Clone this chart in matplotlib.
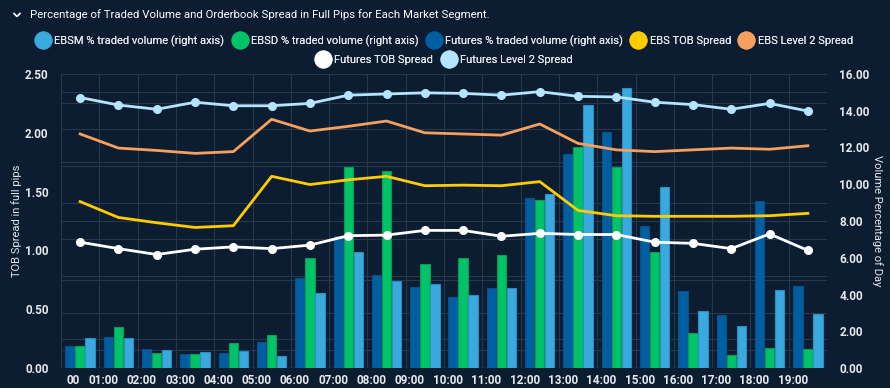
import matplotlib
matplotlib.use("Agg")
import matplotlib.pyplot as plt
from matplotlib.lines import Line2D
import numpy as np

plt.rcParams['font.family'] = ['Roboto', 'DejaVu Sans']

hours = ["00", "01:00", "02:00", "03:00", "04:00", "05:00", "06:00", "07:00", "08:00", "09:00",
         "10:00", "11:00", "12:00", "13:00", "14:00", "15:00", "16:00", "17:00", "18:00", "19:00"]

# bars (right axis, % of day)
futures_vol = [1.21, 1.69, 1.02, 0.74, 0.80, 1.40, 4.90, 7.18, 5.04, 4.39,
               3.85, 4.37, 9.27, 11.65, 12.83, 7.73, 4.19, 2.88, 9.07, 4.48]
ebsd_vol = [1.21, 2.21, 0.83, 0.74, 1.34, 1.78, 6.00, 10.92, 10.74, 5.66,
            6.00, 6.13, 9.12, 12.05, 10.92, 6.29, 1.89, 0.69, 1.07, 1.02]
ebsm_vol = [1.65, 1.65, 0.96, 0.89, 0.925, 0.64, 4.08, 6.33, 4.72, 4.55,
            3.95, 4.34, 9.45, 14.29, 15.26, 9.83, 3.08, 2.27, 4.23, 2.92]

# lines (left axis, pips)
ebs_tob = [1.415, 1.28, 1.235, 1.195, 1.21, 1.63, 1.56, 1.60, 1.63, 1.55,
           1.555, 1.55, 1.585, 1.34, 1.295, 1.29, 1.29, 1.29, 1.295, 1.315]
ebs_l2 = [1.99, 1.87, 1.85, 1.825, 1.84, 2.115, 2.015, 2.055, 2.10, 2.00,
          1.99, 1.98, 2.075, 1.91, 1.855, 1.84, 1.855, 1.87, 1.86, 1.89]
fut_tob = [1.07, 1.015, 0.965, 1.01, 1.03, 1.015, 1.045, 1.125, 1.13, 1.17,
           1.17, 1.12, 1.145, 1.135, 1.135, 1.07, 1.06, 1.015, 1.14, 1.00]
fut_l2 = [2.30, 2.236, 2.20, 2.26, 2.23, 2.23, 2.25, 2.32, 2.33, 2.34,
          2.335, 2.32, 2.35, 2.31, 2.305, 2.26, 2.24, 2.20, 2.25, 2.185]

left_ticks = [0, 0.5, 1.0, 1.5, 2.0, 2.5]
right_ticks = [0, 2, 4, 6, 8, 10, 12, 14, 16]

BG = '#0c1c31'
C_EBSM = '#3aa9de'
C_EBSD = '#00c267'
C_FUT = '#005ea2'
C_EBSTOB = '#ffcc00'
C_EBSL2 = '#f7a05e'
C_FTOB = '#ffffff'
C_FL2 = '#b3e5fc'
TXT = '#e6e9ee'
GRID = '#27374c'

W, H = 890, 388
fig = plt.figure(figsize=(W / 100, H / 100), dpi=100, facecolor=BG)
x0, x1, y0, y1 = 61, 827, 74, 368
ax2 = fig.add_axes([x0 / W, 1 - y1 / H, (x1 - x0) / W, (y1 - y0) / H])
ax = fig.add_axes(ax2.get_position(), sharex=ax2)
ax.set_zorder(ax2.get_zorder() + 1)
ax.patch.set_visible(False)
ax2.set_facecolor(BG)

n = len(hours)
x = np.arange(n)
ax2.set_xlim(-0.5, n - 0.5)
ax2.set_ylim(0, 16)
ax.set_ylim(0, 2.5)

# grid
for b in np.arange(-0.5, n, 1.0):
    ax2.axvline(b, color=GRID, lw=0.8, zorder=0)
for v in [1, 3, 5, 7, 9, 11, 13, 15]:
    ax2.axhline(v, color=GRID, lw=0.8, zorder=0)
for v in [0.25, 0.75, 1.25, 1.75, 2.25]:
    ax2.axhline(v * 6.4, color=GRID, lw=0.8, zorder=0)
ax2.axhline(16, color=GRID, lw=0.8, zorder=0)
ax2.axhline(0, color='#33445a', lw=1.0, zorder=0)

bw = 0.245
off = 0.262
for vals, c, ec, dx in [(futures_vol, C_FUT, '#0a4f85', -off),
                        (ebsd_vol, C_EBSD, '#0a9a55', 0),
                        (ebsm_vol, C_EBSM, '#2a8fc0', off)]:
    ax2.bar(x + dx, vals, width=bw, color=c, edgecolor=ec, linewidth=0.8, zorder=2)

ax.plot(x, fut_l2, color=C_FL2, lw=2.0, marker='o', ms=5.5, zorder=5)
ax.plot(x, ebs_l2, color=C_EBSL2, lw=2.0, zorder=5)
ax.plot(x, ebs_tob, color=C_EBSTOB, lw=2.0, zorder=5)
ax.plot(x, fut_tob, color=C_FTOB, lw=2.0, marker='o', ms=5.5, zorder=5)

for a in (ax, ax2):
    for s in a.spines.values():
        s.set_visible(False)

ax.set_yticks(left_ticks)
ax.set_yticklabels([f"{v:.2f}" for v in left_ticks], color=TXT, fontsize=8.5, fontweight='bold')
ax.tick_params(axis='y', length=0, pad=9)
ax2.yaxis.tick_right()
ax2.set_yticks(right_ticks)
ax2.set_yticklabels([f"{v:.2f}" for v in right_ticks], color=TXT, fontsize=8.5, fontweight='bold')
ax2.tick_params(axis='y', length=0, pad=9)

ax2.set_xticks(x)
ax2.set_xticklabels(hours, color=TXT, fontsize=8.5, fontweight='bold', ha='right')
ax2.tick_params(axis='x', length=0, pad=4)
ax.tick_params(axis='x', length=0, labelbottom=False)

yc = 1 - ((y0 + y1) / 2) / H
fig.text(17 / W, yc, "TOB Spread in full pips", color=TXT, fontsize=8,
         rotation=90, ha='center', va='center')
fig.text(877 / W, yc, "Volume Percentage of Day", color=TXT, fontsize=8,
         rotation=270, ha='center', va='center')

# title with chevron
fig.text(30 / W, 1 - 15 / H, "Percentage of Traded Volume and Orderbook Spread in Full Pips for Each Market Segment.",
         color='#ffffff', fontsize=8.2, va='center', ha='left')
fig.add_artist(Line2D([14 / W, 17 / W, 20 / W], [1 - 13.5 / H, 1 - 16.5 / H, 1 - 13.5 / H],
                      color='#ffffff', lw=1.2, transform=fig.transFigure))

def h(c):
    return Line2D([], [], marker='o', ls='', ms=12, markerfacecolor=c, markeredgecolor=c)

row1 = [(C_EBSM, "EBSM % traded volume (right axis)"),
        (C_EBSD, "EBSD % traded volume (right axis)"),
        (C_FUT, "Futures % traded volume (right axis)"),
        (C_EBSTOB, "EBS TOB Spread"),
        (C_EBSL2, "EBS Level 2 Spread")]
row2 = [(C_FTOB, "Futures TOB Spread"), (C_FL2, "Futures Level 2 Spread")]
for row, yy in [(row1, 41), (row2, 60)]:
    leg = fig.legend([h(c) for c, _ in row], [t for _, t in row], loc='center',
                     bbox_to_anchor=(0.5, 1 - yy / H), ncol=len(row), frameon=False,
                     fontsize=8, handlelength=1.0, handletextpad=0.5, columnspacing=0.9,
                     borderpad=0, borderaxespad=0)
    for t in leg.get_texts():
        t.set_color(TXT)
    fig.add_artist(leg)

fig.savefig("out.png", dpi=100, facecolor=BG)
